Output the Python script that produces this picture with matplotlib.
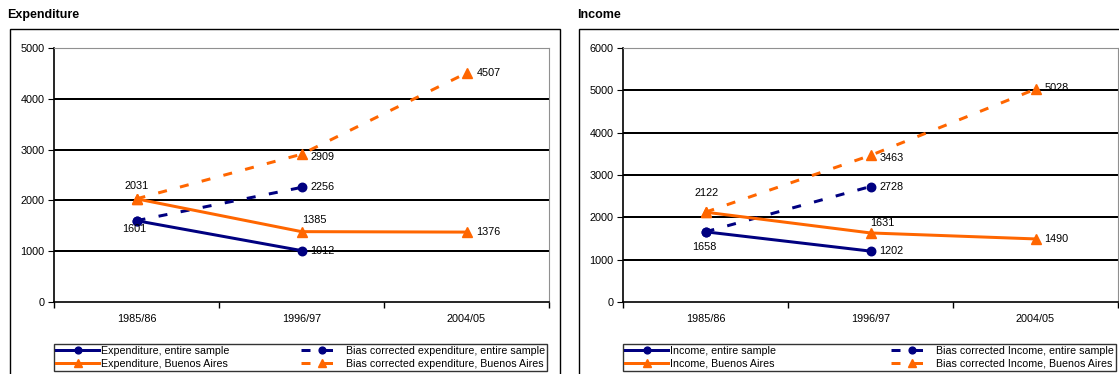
import numpy as np
import matplotlib
matplotlib.use("Agg")
import matplotlib.pyplot as plt
from matplotlib.patches import Rectangle

plt.rcParams['font.family'] = ['Liberation Sans', 'DejaVu Sans']

years = ['1985/86', '1996/97', '2004/05']

# expenditure panel
exp_entire = [1601, 1012, np.nan]
exp_bias_entire = [1601, 2256, np.nan]
exp_ba = [2031, 1385, 1376]
exp_bias_ba = [2031, 2909, 4507]

# income panel
inc_entire = [1658, 1202, np.nan]
inc_bias_entire = [1658, 2728, np.nan]
inc_ba = [2122, 1631, 1490]
inc_bias_ba = [2122, 3463, 5028]

NAVY = '#000080'
ORANGE = '#FF6600'
PX = 0.72  # pixels -> points at dpi 100

W, H = 1119, 374
fig = plt.figure(figsize=(W / 100, H / 100), dpi=100)


def panel(x0, ymax, entire, bias_entire, ba, bias_ba):
    ax = fig.add_axes([x0 / W, (H - 302) / H, 495 / W, 254 / H])
    x = np.arange(len(years)) + 0.5
    lw = 3 * PX
    h2, = ax.plot(x, bias_entire, color=NAVY, lw=lw, ls=(0, (3, 4.5)), marker='o',
                  ms=8.5 * PX, zorder=3)
    h4, = ax.plot(x, bias_ba, color=ORANGE, lw=lw, ls=(0, (3, 4.5)), marker='^',
                  ms=10 * PX, zorder=3)
    h1, = ax.plot(x, entire, color=NAVY, lw=lw, marker='o', ms=8.5 * PX, zorder=4)
    h3, = ax.plot(x, ba, color=ORANGE, lw=lw, marker='^', ms=10 * PX, zorder=4)

    ax.set_xlim(0, 3)
    ax.set_ylim(0, ymax)
    ax.set_yticks(np.arange(0, ymax + 1, 1000))
    for g in np.arange(1000, ymax, 1000):
        ax.axhline(g, color='black', lw=2 * PX, zorder=1)
    ax.set_xticks(x)
    ax.set_xticklabels(years)
    ax.set_xticks([0, 1, 2, 3], minor=True)
    ax.tick_params(axis='x', which='major', length=0, pad=9, labelsize=7.8)
    ax.tick_params(axis='x', which='minor', length=4, direction='out', width=1)
    ax.tick_params(axis='y', length=4, direction='out', labelsize=7.8, pad=3)
    for s in ['top', 'right']:
        ax.spines[s].set_color('#909090')
    for s in ['left', 'bottom']:
        ax.spines[s].set_color('black')
        ax.spines[s].set_linewidth(1.2)
    return ax, (h1, h2, h3, h4)


def label(ax, i, v, dx, dy, ha='center'):
    ax.annotate(str(v), (i + 0.5, v), xytext=(dx * PX, dy * PX), textcoords='offset points',
                ha=ha, va='center', fontsize=7.8, zorder=5)


def legend(ax, hs, labels):
    h1, h2, h3, h4 = hs
    leg = ax.legend([h1, h3, h2, h4], [labels[0], labels[2], labels[1], labels[3]],
                    ncol=2, loc='lower left', bbox_to_anchor=(0, -0.272, 0.996, 0.134),
                    mode='expand', fontsize=7.7, frameon=True, fancybox=False,
                    edgecolor='black', handlelength=4.0, handletextpad=0.2,
                    borderaxespad=0, borderpad=0.2, labelspacing=0.3, markerscale=0.8,
                    columnspacing=1.0)
    leg.get_frame().set_linewidth(1)


# outer boxes
fig.patches.append(Rectangle((10 / W, -0.05), 550 / W, (H - 29) / H + 0.05,
                             transform=fig.transFigure, fill=False, ec='black', lw=1))
fig.patches.append(Rectangle((579 / W, -0.05), 600 / W, (H - 29) / H + 0.05,
                             transform=fig.transFigure, fill=False, ec='black', lw=1))

fig.text(7 / W, 1 - 15 / H, 'Expenditure', fontsize=9, fontweight='bold', va='center')
fig.text(577 / W, 1 - 15 / H, 'Income', fontsize=9, fontweight='bold', va='center')

ax1, hs1 = panel(54, 5000, exp_entire, exp_bias_entire, exp_ba, exp_bias_ba)
label(ax1, 0, exp_ba[0], 0, 13)
label(ax1, 0, exp_entire[0], -2, -8)
label(ax1, 1, exp_ba[1], 13, 12)
label(ax1, 1, exp_entire[1], 9, 0, 'left')
label(ax1, 1, exp_bias_ba[1], 9, -3, 'left')
label(ax1, 1, exp_bias_entire[1], 9, 0, 'left')
label(ax1, 2, exp_bias_ba[2], 10, 0, 'left')
label(ax1, 2, exp_ba[2], 10, 0, 'left')
legend(ax1, hs1, ['Expenditure, entire sample', 'Bias corrected expenditure, entire sample',
                  'Expenditure, Buenos Aires', 'Bias corrected expenditure, Buenos Aires'])

ax2, hs2 = panel(623, 6000, inc_entire, inc_bias_entire, inc_ba, inc_bias_ba)
label(ax2, 0, inc_ba[0], 1, 19)
label(ax2, 0, inc_entire[0], -1, -15)
label(ax2, 1, inc_ba[1], 12, 10)
label(ax2, 1, inc_entire[1], 9, 0, 'left')
label(ax2, 1, inc_bias_ba[1], 9, -3, 'left')
label(ax2, 1, inc_bias_entire[1], 9, 0, 'left')
label(ax2, 2, inc_bias_ba[2], 9, 1, 'left')
label(ax2, 2, inc_ba[2], 9, 0, 'left')
legend(ax2, hs2, ['Income, entire sample', 'Bias corrected Income, entire sample',
                  'Income, Buenos Aires', 'Bias corrected Income, Buenos Aires'])

fig.savefig('out.png', dpi=100)
